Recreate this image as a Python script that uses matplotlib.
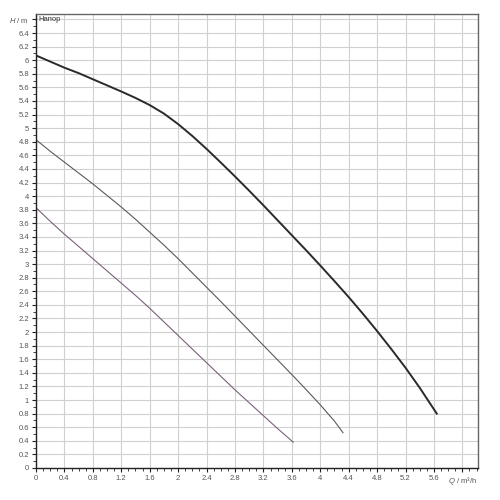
import numpy as np
import matplotlib
matplotlib.use('Agg')
import matplotlib.pyplot as plt
from matplotlib.ticker import MultipleLocator

plt.rcParams['font.family'] = ['Liberation Sans', 'DejaVu Sans']
plt.rcParams['mathtext.fontset'] = 'custom'
plt.rcParams['mathtext.rm'] = 'Liberation Sans'
plt.rcParams['mathtext.it'] = 'Liberation Sans:italic'

# pump curves: flow Q (m3/h) vs head H (m)
q_max = [0.0, 0.2, 0.4, 0.6, 0.8, 1.0, 1.2, 1.4, 1.6, 1.8, 2.0, 2.2, 2.4, 2.6, 2.8,
         3.0, 3.2, 3.4, 3.6, 3.8, 4.0, 4.2, 4.4, 4.6, 4.8, 5.0, 5.2, 5.4, 5.64]
h_max = [6.07, 5.98, 5.89, 5.81, 5.72, 5.63, 5.54, 5.445, 5.34, 5.215, 5.06, 4.885, 4.695, 4.495, 4.29,
         4.08, 3.865, 3.645, 3.425, 3.205, 2.98, 2.75, 2.515, 2.27, 2.015, 1.75, 1.475, 1.18, 0.80]

q_mid = [0.0, 0.2, 0.4, 0.6, 0.8, 1.0, 1.2, 1.4, 1.6, 1.8, 2.0, 2.2, 2.4, 2.6, 2.8,
         3.0, 3.2, 3.4, 3.6, 3.8, 4.0, 4.2, 4.32]
h_mid = [4.83, 4.66, 4.50, 4.34, 4.18, 4.01, 3.84, 3.66, 3.47, 3.28, 3.08, 2.87, 2.66, 2.45, 2.235,
         2.02, 1.805, 1.59, 1.375, 1.155, 0.93, 0.69, 0.52]

q_min = [0.0, 0.2, 0.4, 0.6, 0.8, 1.0, 1.2, 1.4, 1.6, 1.8, 2.0, 2.2, 2.4, 2.6, 2.8,
         3.0, 3.2, 3.4, 3.62]
h_min = [3.83, 3.63, 3.44, 3.26, 3.08, 2.90, 2.72, 2.54, 2.35, 2.15, 1.95, 1.75, 1.55, 1.35, 1.15,
         0.96, 0.77, 0.58, 0.38]

x_ticks = np.arange(0, 6.01, 0.4)
y_ticks = np.arange(0, 6.61, 0.2)

fig = plt.figure(figsize=(5, 5), dpi=100)
ax = fig.add_axes([0.072, 0.064, 0.884, 0.908])

ax.plot(q_max, h_max, color='#2a2a2a', linewidth=1.4)
ax.plot(q_mid, h_mid, color='#5a5a5a', linewidth=0.8)
ax.plot(q_min, h_min, color='#7a607a', linewidth=0.8)

ax.set_xlim(0, 6.22)
ax.set_ylim(0, 6.68)

ax.set_xticks(x_ticks)
ax.set_yticks(y_ticks)
x_labels = [f'{v:g}' for v in np.round(x_ticks, 1)]
x_labels[-1] = r'$\it{Q}$ / m³/h'
y_labels = [f'{v:g}' for v in np.round(y_ticks, 1)]
y_labels[-1] = r'$\it{H}$ / m'
ax.set_xticklabels(x_labels)
ax.set_yticklabels(y_labels)
ax.xaxis.set_minor_locator(MultipleLocator(0.1))
ax.yaxis.set_minor_locator(MultipleLocator(0.1))

ax.tick_params(axis='both', which='major', labelsize=5.5, labelcolor='#555555',
               length=3, width=0.8, color='#222222', pad=2)
ax.tick_params(axis='both', which='minor', length=2, width=0.6, color='#222222')

ax.grid(True, which='major', color='#d0d0d0', linewidth=0.8)
ax.set_axisbelow(True)

for side in ['left', 'bottom']:
    ax.spines[side].set_color('#222222')
    ax.spines[side].set_linewidth(1.0)
for side in ['top', 'right']:
    ax.spines[side].set_color('#666666')
    ax.spines[side].set_linewidth(1.0)

ax.text(0.03, 6.6, 'Напор', fontsize=5.5, color='#333333', va='center', ha='left')

fig.savefig('out.png', dpi=100)
